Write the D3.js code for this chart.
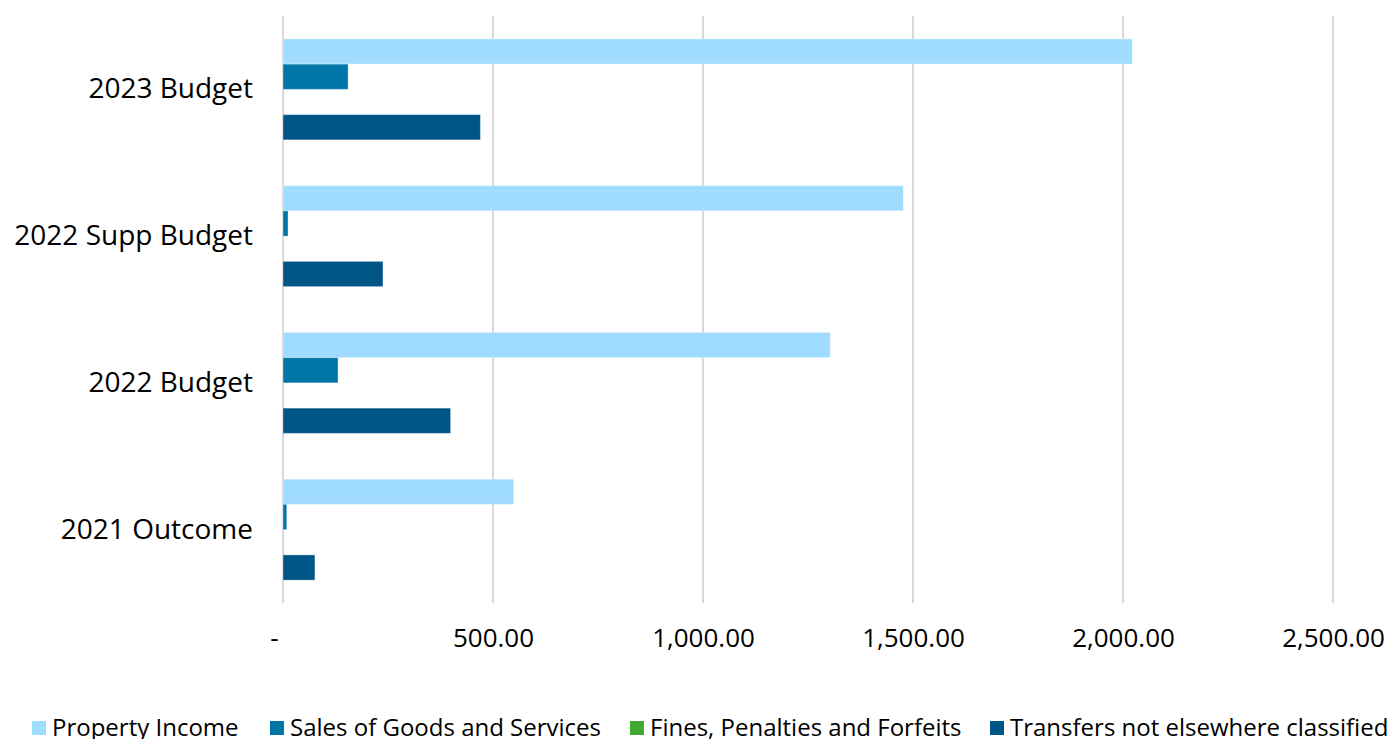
<!DOCTYPE html>
<html>
<head>
<meta charset="utf-8">
<script src="https://cdn.jsdelivr.net/npm/d3@7"></script>
<style>
  body { margin: 0; background: #fff; }
  text { font-family: "Open Sans", sans-serif; fill: #000; }
</style>
</head>
<body>
<svg width="1389" height="739"></svg>
<script>
// categories top to bottom
const categories = ['2023 Budget', '2022 Supp Budget', '2022 Budget', '2021 Outcome'];
const seriesNames = ['Property Income', 'Sales of Goods and Services', 'Fines, Penalties and Forfeits', 'Transfers not elsewhere classified'];
const seriesColors = ['#a0dcff', '#0076a8', '#43a832', '#005587'];

const propertyIncome = [2022, 1477, 1303, 549];
const salesGoods = [155, 12, 131, 9];
const finesPenalties = [0.5, 0.5, 0.5, 0.5];
const transfers = [470, 238, 399, 76];

const xTicks = [0, 500, 1000, 1500, 2000, 2500];

const margin = { left: 283, right: 56, top: 16, bottom: 136 };

const svg = d3.select('svg');
const width = +svg.attr('width');
const height = +svg.attr('height');
const innerWidth = width - margin.left - margin.right;
const innerHeight = height - margin.top - margin.bottom;

const data = categories.map((c, i) => ({
  category: c,
  values: [propertyIncome[i], salesGoods[i], finesPenalties[i], transfers[i]]
}));

const g = svg.append('g')
    .attr('transform', `translate(${margin.left},${margin.top})`);

const xScale = d3.scaleLinear()
  .domain([0, 2500])
  .range([0, innerWidth]);

const yScale = d3.scaleBand()
  .domain(categories)
  .range([0, innerHeight])
  .padding(0);

const ySub = d3.scaleBand()
  .domain(d3.range(seriesNames.length))
  .range([0, yScale.bandwidth()])
  .paddingInner(0)
  .paddingOuter(0.906);

// gridlines
g.append('g')
  .selectAll('line')
  .data(xTicks)
  .join('line')
    .attr('x1', d => xScale(d))
    .attr('x2', d => xScale(d))
    .attr('y1', 0)
    .attr('y2', innerHeight)
    .attr('stroke', '#d9d9d9')
    .attr('stroke-width', 2);

// x tick labels
const xAxis = d3.axisBottom(xScale)
  .tickValues(xTicks)
  .tickSize(0)
  .tickPadding(26)
  .tickFormat(d => d === 0 ? '-' : d3.format(',.2f')(d));

const xAxisG = g.append('g')
  .attr('transform', `translate(0,${innerHeight})`)
  .call(xAxis);
xAxisG.select('.domain').remove();
xAxisG.selectAll('text')
  .style('font-size', '26px')
  .attr('fill', '#000');
xAxisG.selectAll('.tick text')
  .filter(d => d === 0)
  .attr('dx', -9);

// category labels
const yAxis = d3.axisLeft(yScale).tickSize(0).tickPadding(30);
const yAxisG = g.append('g').call(yAxis);
yAxisG.select('.domain').remove();
yAxisG.selectAll('text')
  .style('font-size', '28px')
  .attr('fill', '#000');

// bars
const groups = g.append('g')
  .selectAll('g')
  .data(data)
  .join('g')
    .attr('transform', d => `translate(0,${yScale(d.category)})`);

groups.selectAll('rect')
  .data(d => d.values.map((v, i) => ({ v, i })))
  .join('rect')
    .attr('x', xScale(0))
    .attr('y', d => ySub(d.i))
    .attr('width', d => xScale(d.v) - xScale(0))
    .attr('height', ySub.bandwidth())
    .attr('fill', d => seriesColors[d.i])
    .attr('stroke', 'rgba(255,255,255,0.35)')
    .attr('stroke-width', 1);

// legend
const legendX = [32, 270, 630, 990];
const legend = svg.append('g').attr('transform', 'translate(0,728)');
const items = legend.selectAll('g')
  .data(seriesNames)
  .join('g')
    .attr('transform', (d, i) => `translate(${legendX[i]},0)`);
items.append('rect')
  .attr('x', 0)
  .attr('y', -7)
  .attr('width', 14)
  .attr('height', 14)
  .attr('fill', (d, i) => seriesColors[i]);
items.append('text')
  .attr('x', 20)
  .attr('y', 0)
  .attr('dy', '0.35em')
  .style('font-size', '24px')
  .text(d => d);
</script>
</body>
</html>
